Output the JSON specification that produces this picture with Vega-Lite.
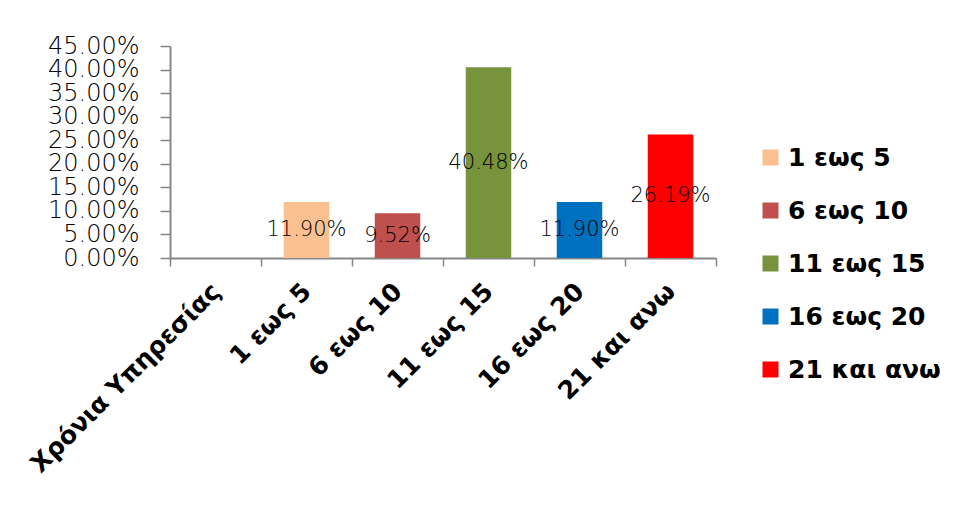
{
  "$schema": "https://vega.github.io/schema/vega-lite/v6.json",
  "width": 546,
  "height": 212,
  "autosize": {"type": "none"},
  "padding": {"left": 170, "top": 46, "right": 248, "bottom": 251},
  "background": "white",
  "config": {"view": {"stroke": null}},
  "data": {
    "values": [
      {"cat": "1 εως 5", "value": 0.119},
      {"cat": "6 εως 10", "value": 0.0952},
      {"cat": "11 εως 15", "value": 0.4048},
      {"cat": "16 εως 20", "value": 0.119},
      {"cat": "21 και ανω", "value": 0.2619}
    ]
  },
  "encoding": {
    "x": {
      "field": "cat",
      "type": "nominal",
      "sort": null,
      "scale": {
        "domain": ["Χρόνια Υπηρεσίας", "1 εως 5", "6 εως 10", "11 εως 15", "16 εως 20", "21 και ανω"],
        "paddingInner": 0,
        "paddingOuter": 0
      },
      "axis": {
        "title": null,
        "tickBand": "extent",
        "labelAngle": -45,
        "labelAlign": "right",
        "labelBaseline": "middle",
        "labelFont": "DejaVu Sans",
        "labelFontWeight": "bold",
        "labelFontSize": 25,
        "labelColor": "#000000",
        "labelPadding": 21,
        "labelLimit": 0,
        "labelOverlap": false,
        "tickSize": 8,
        "tickWidth": 1.5,
        "tickColor": "#868686",
        "domainColor": "#868686",
        "domainWidth": 2
      }
    }
  },
  "layer": [
    {
      "mark": {"type": "bar", "width": {"band": 0.5}},
      "encoding": {
        "y": {
          "field": "value",
          "type": "quantitative",
          "scale": {"domain": [0, 0.45], "nice": false},
          "axis": {
            "title": null,
            "values": [0, 0.05, 0.1, 0.15, 0.2, 0.25, 0.3, 0.35, 0.4, 0.45],
            "format": ".2%",
            "grid": false,
            "labelFont": "DejaVu Sans",
            "labelFontWeight": 200,
            "labelFontSize": 24,
            "labelColor": "#000000",
            "labelPadding": 21,
            "labelOverlap": false,
            "labelBound": false,
            "labelFlush": false,
            "labelSeparation": 0,
            "tickSize": 10,
            "tickWidth": 1.5,
            "tickColor": "#868686",
            "domainColor": "#868686",
            "domainWidth": 2
          }
        },
        "color": {
          "field": "cat",
          "type": "nominal",
          "sort": null,
          "scale": {
            "domain": ["1 εως 5", "6 εως 10", "11 εως 15", "16 εως 20", "21 και ανω"],
            "range": ["#FAC090", "#C0504D", "#77933C", "#0070C0", "#FF0000"]
          },
          "legend": {
            "title": null,
            "orient": "none",
            "legendX": 588,
            "legendY": 99,
            "symbolType": "square",
            "symbolSize": 256,
            "symbolStrokeWidth": 0,
            "symbolOpacity": 1,
            "labelFont": "DejaVu Sans",
            "labelFontWeight": "bold",
            "labelFontSize": 25,
            "labelColor": "#000000",
            "labelOffset": 5,
            "labelLimit": 0,
            "rowPadding": 27
          }
        }
      }
    },
    {
      "mark": {"type": "text", "font": "DejaVu Sans", "fontWeight": 200, "fontSize": 21, "color": "#000000", "baseline": "middle"},
      "encoding": {
        "y": {
          "field": "value",
          "type": "quantitative",
          "scale": {"domain": [0, 0.9], "nice": false},
          "axis": null
        },
        "text": {"field": "value", "type": "quantitative", "format": ".2%"}
      }
    }
  ],
  "resolve": {"scale": {"y": "independent"}}
}
